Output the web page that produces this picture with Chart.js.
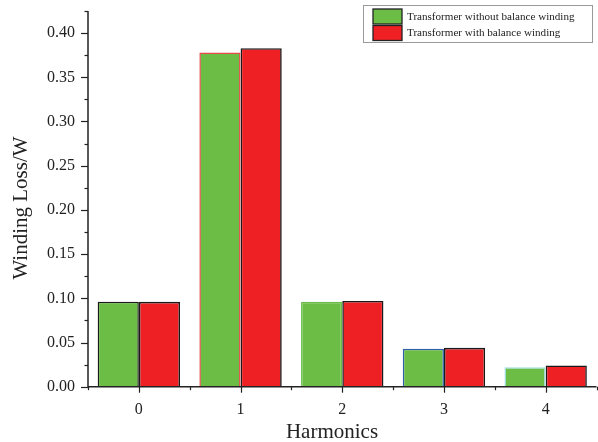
<!DOCTYPE html>
<html>
<head>
<meta charset="utf-8">
<script src="https://cdn.jsdelivr.net/npm/chart.js@4.4.1/dist/chart.umd.min.js"></script>
<style>
    html, body { margin: 0; padding: 0; background: #ffffff; }
    #wrap { width: 598px; height: 442px; position: relative; }
</style>
</head>
<body>
<div id="wrap"><canvas id="chart"></canvas></div>
<script>
// Data
const harmonics = ['0', '1', '2', '3', '4'];
const withoutBalance = [0.096, 0.378, 0.096, 0.043, 0.022];
const withBalance = [0.096, 0.383, 0.097, 0.044, 0.024];
const yMax = 0.425;
const xTitle = 'Harmonics';
const yTitle = 'Winding Loss/W';

const SERIF = '"Liberation Serif", "DejaVu Serif", serif';
const INK = '#222222';

// Axis lines, major/minor tick marks and axis titles (Origin style)
const axisTicks = {
    id: 'axisTicks',
    afterDraw(chart) {
        const ctx = chart.ctx;
        const x = chart.scales.x;
        const y = chart.scales.y;
        const area = chart.chartArea;
        ctx.save();
        ctx.strokeStyle = INK;
        ctx.lineWidth = 1.5;

        // axis lines
        ctx.beginPath();
        ctx.moveTo(area.left, y.getPixelForValue(yMax));
        ctx.lineTo(area.left, area.bottom);
        ctx.lineTo(area.right, area.bottom);
        ctx.stroke();

        ctx.lineWidth = 1.2;
        // y ticks every 0.025, long on 0.05
        for (let i = 0; i <= Math.round(yMax / 0.025); i++) {
            const v = i * 0.025;
            const py = Math.round(y.getPixelForValue(v)) + 0.5;
            const len = i % 2 === 0 ? 7 : 3.5;
            ctx.beginPath();
            ctx.moveTo(area.left, py);
            ctx.lineTo(area.left - len, py);
            ctx.stroke();
        }

        // x ticks: major at categories, minor at boundaries
        for (let i = -0.5; i <= harmonics.length - 0.5; i += 0.5) {
            const px = Math.round(x.getPixelForValue(i)) + 0.5;
            const major = Number.isInteger(i);
            ctx.beginPath();
            ctx.moveTo(px, area.bottom);
            ctx.lineTo(px, area.bottom + (major ? 6 : 3.5));
            ctx.stroke();
        }

        // axis titles
        ctx.fillStyle = INK;
        ctx.font = '21px ' + SERIF;
        ctx.textAlign = 'center';
        ctx.textBaseline = 'middle';
        ctx.fillText(xTitle, 332, 432);
        ctx.translate(21, 208);
        ctx.rotate(-Math.PI / 2);
        ctx.fillText(yTitle, 0, 0);
        ctx.restore();
    }
};

// Boxed legend in the top-right corner
const boxLegend = {
    id: 'boxLegend',
    afterDraw(chart) {
        const ctx = chart.ctx;
        const left = 363, top = 5, w = 229, h = 37;
        ctx.save();
        ctx.fillStyle = '#ffffff';
        ctx.fillRect(left, top, w, h);
        ctx.strokeStyle = '#9a9a9a';
        ctx.lineWidth = 1;
        ctx.strokeRect(left + 0.5, top + 0.5, w, h);

        ctx.font = '11.1px ' + SERIF;
        ctx.textBaseline = 'middle';
        chart.data.datasets.forEach((ds, i) => {
            const sy = 9 + i * 16.5;
            ctx.fillStyle = ds.legendColor;
            ctx.fillRect(373, sy, 29, 15);
            ctx.strokeStyle = INK;
            ctx.lineWidth = 1.3;
            ctx.strokeRect(373, sy, 29, 15);
            ctx.fillStyle = INK;
            ctx.fillText(ds.label, 407, sy + 8);
        });
        ctx.restore();
    }
};

const chart = new Chart(document.getElementById('chart').getContext('2d'), {
    type: 'bar',
    data: {
        labels: harmonics,
        datasets: [{
            label: 'Transformer without balance winding',
            data: withoutBalance,
            backgroundColor: '#6bbd46',
            legendColor: '#6bbd46',
            borderColor: ['#1a1a1a', '#e84a4a', '#6bbd46', '#2f5fa8', '#9fdcdc'],
            borderWidth: 1.5,
            borderSkipped: 'bottom'
        }, {
            label: 'Transformer with balance winding',
            data: withBalance,
            backgroundColor: '#ee2024',
            legendColor: '#ee2024',
            borderColor: '#1a1a1a',
            borderWidth: 1.6,
            borderSkipped: 'bottom'
        }]
    },
    options: {
        responsive: true,
        maintainAspectRatio: false,
        animation: false,
        categoryPercentage: 0.81,
        barPercentage: 1.0,
        layout: { padding: { top: 11, right: 1.5, left: 0, bottom: 0 } },
        plugins: {
            legend: { display: false },
            tooltip: { enabled: false }
        },
        scales: {
            x: {
                grid: { display: false },
                border: { display: false },
                ticks: {
                    color: INK,
                    padding: 5,
                    font: { family: SERIF, size: 16 }
                },
                afterFit(scale) {
                    scale.height = 55.3;
                    scale.paddingLeft = 0;
                    scale.paddingRight = 0;
                }
            },
            y: {
                min: 0,
                max: yMax,
                grid: { display: false },
                border: { display: false },
                ticks: {
                    stepSize: 0.05,
                    color: INK,
                    padding: 5,
                    font: { family: SERIF, size: 16 },
                    callback: (v) => v.toFixed(2)
                },
                afterBuildTicks(scale) {
                    scale.ticks = scale.ticks.filter(t => Math.abs(t.value / 0.05 - Math.round(t.value / 0.05)) < 1e-6);
                },
                afterFit(scale) {
                    scale.width = 88;
                    scale.paddingTop = 0;
                    scale.paddingBottom = 0;
                }
            }
        }
    },
    plugins: [axisTicks, boxLegend]
});
</script>
</body>
</html>
